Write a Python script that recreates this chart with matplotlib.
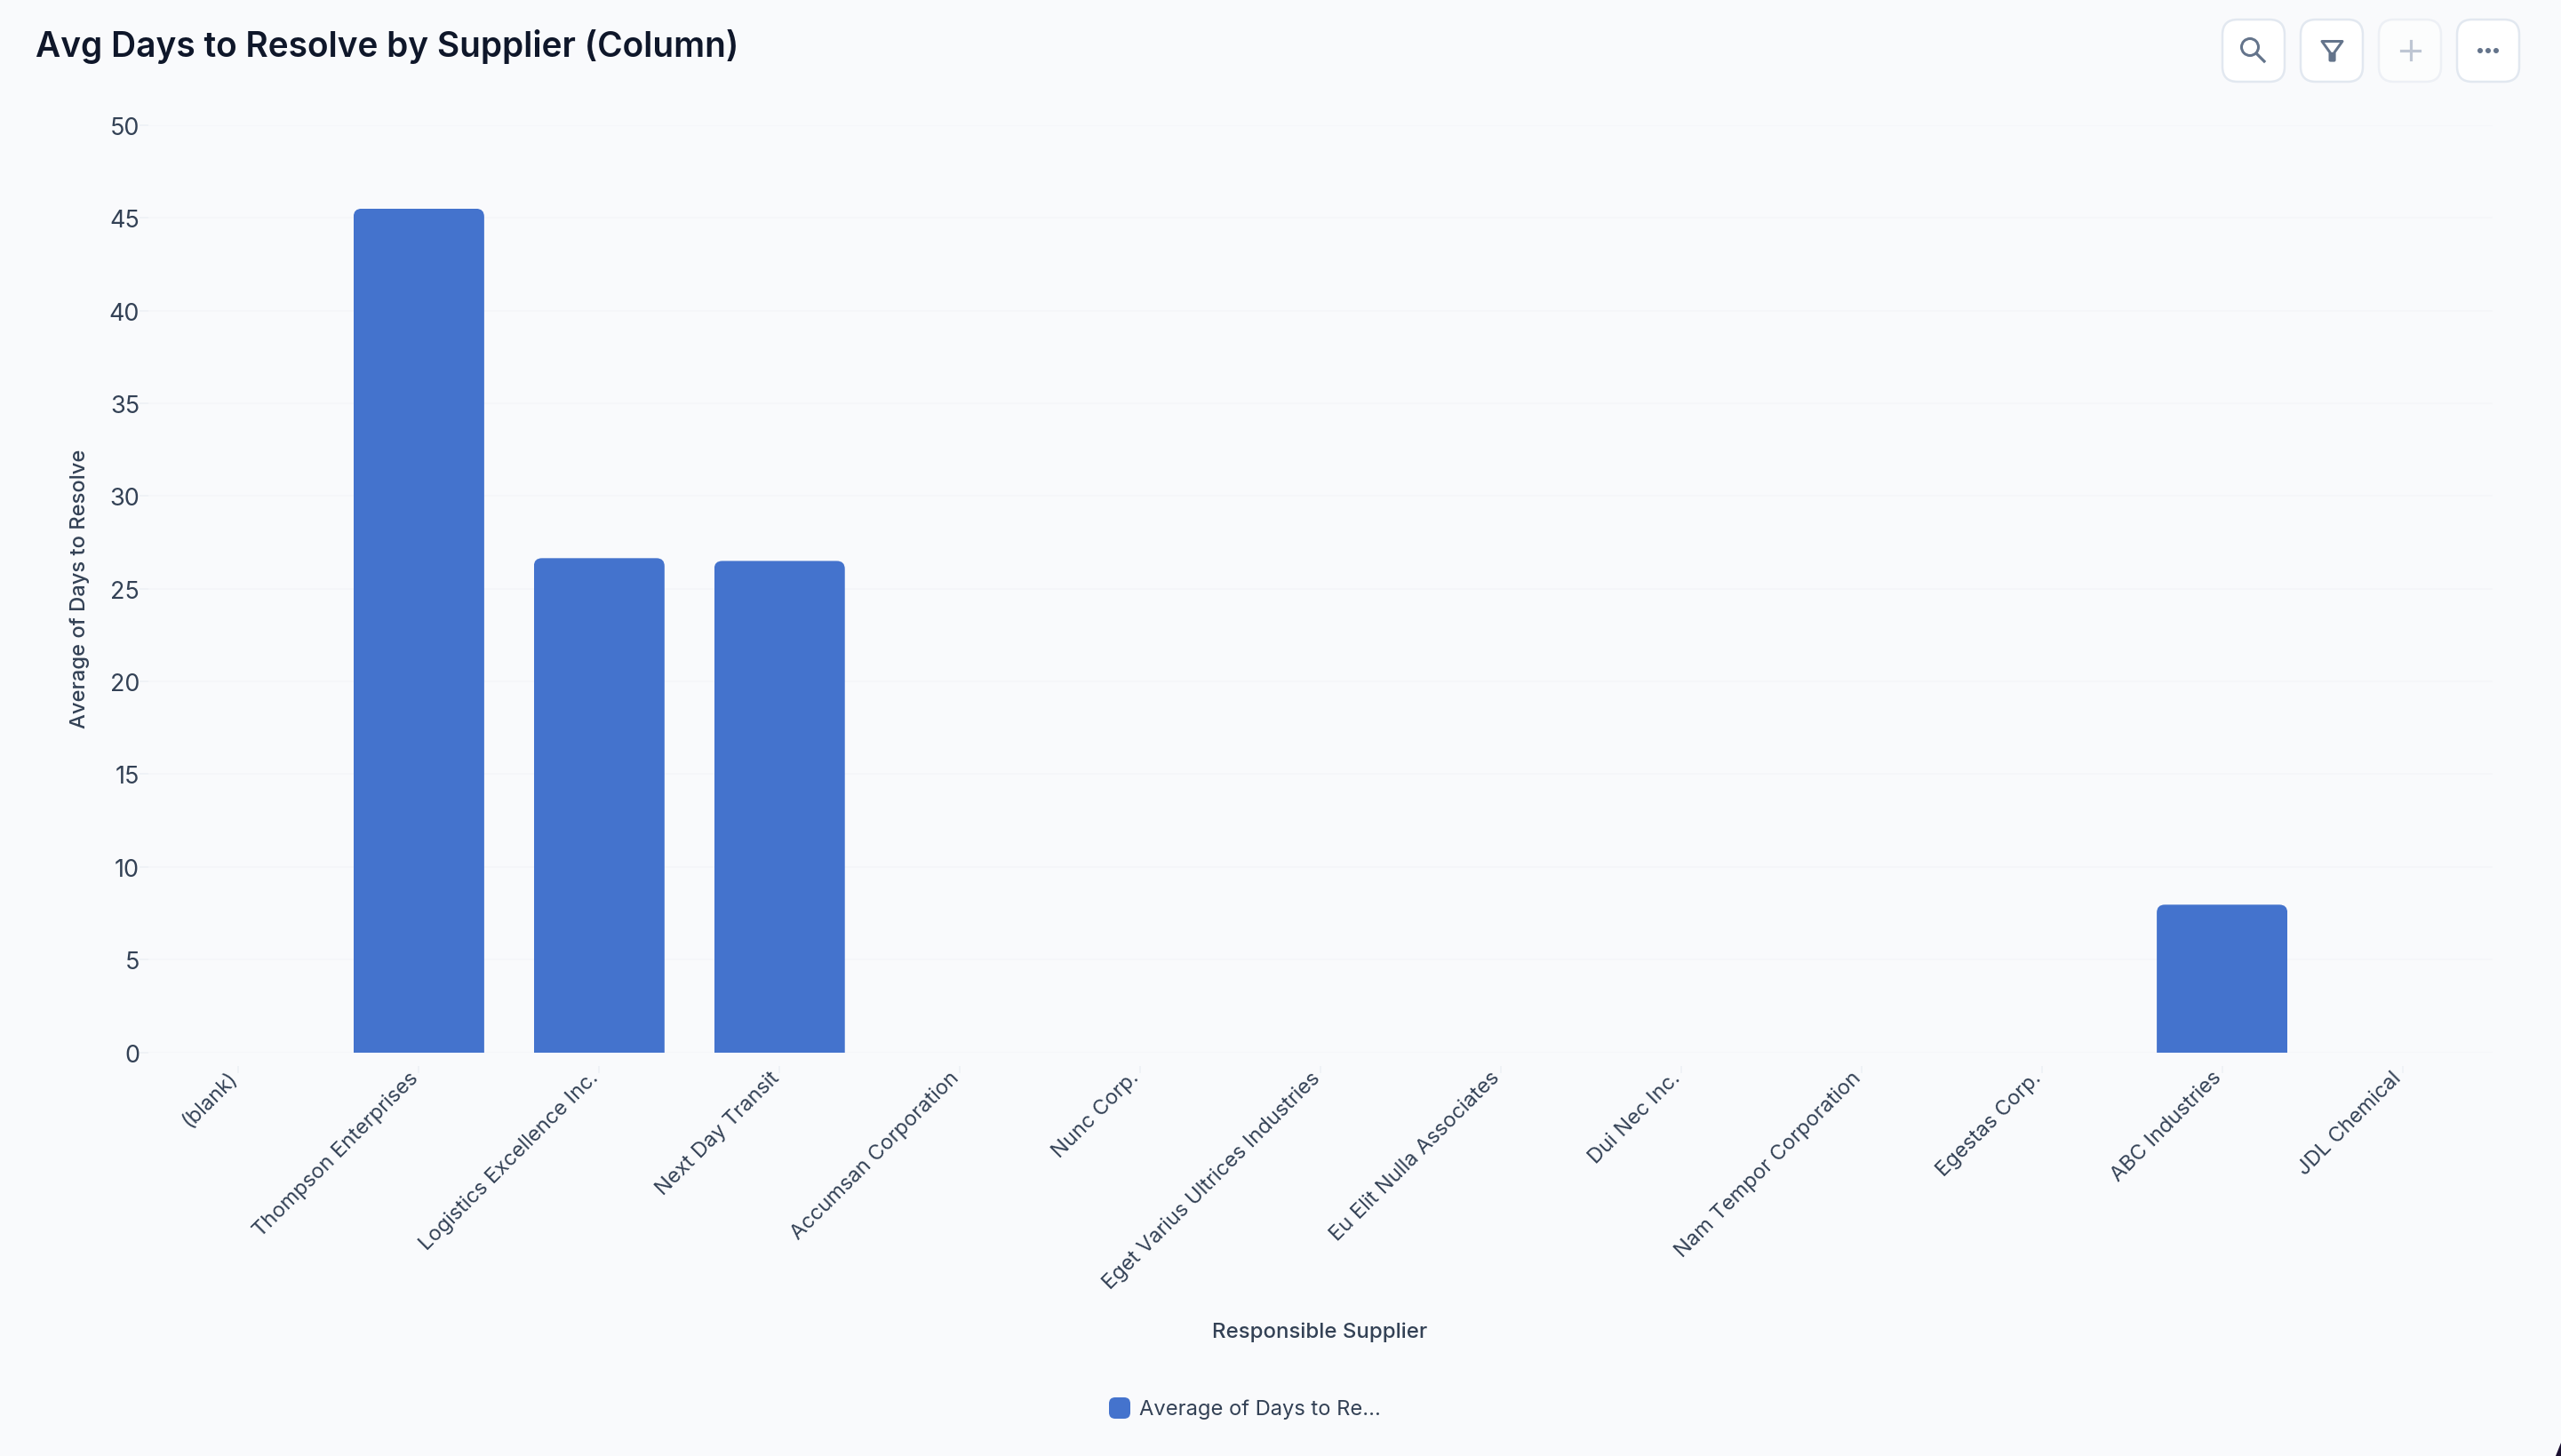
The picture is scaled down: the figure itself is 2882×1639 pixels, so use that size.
import matplotlib
matplotlib.use("Agg")
import matplotlib.pyplot as plt
from matplotlib.patches import FancyBboxPatch, Circle, Polygon
from matplotlib.lines import Line2D
from matplotlib.transforms import ScaledTranslation

categories = ["(blank)", "Thompson Enterprises", "Logistics Excellence Inc.", "Next Day Transit",
              "Accumsan Corporation", "Nunc Corp.", "Eget Varius Ultrices Industries",
              "Eu Elit Nulla Associates", "Dui Nec Inc.", "Nam Tempor Corporation",
              "Egestas Corp.", "ABC Industries", "JDL Chemical"]
avg_days = [0, 45.5, 26.65, 26.5, 0, 0, 0, 0, 0, 0, 0, 7.96, 0]
y_ticks = [0, 5, 10, 15, 20, 25, 30, 35, 40, 45, 50]
title = "Avg Days to Resolve by Supplier (Column)"
x_title = "Responsible Supplier"
y_title = "Average of Days to Resolve"
legend_label = "Average of Days to Re..."

W, H = 2882, 1640
BG = "#F9FAFC"; BAR = "#4473CD"; TXT = "#334155"; DARK = "#0F172A"; GRID = "#F4F6F9"; ICON = "#64748B"
plt.rcParams["font.family"] = ["Inter", "DejaVu Sans"]
px = 72 / 100  # points per pixel at dpi 100

fig = plt.figure(figsize=(W / 100, H / 100), dpi=100, facecolor=BG)
L, R, T, B = 167, 2805, 142, 1185.5
ax = fig.add_axes([L / W, 1 - B / H, (R - L) / W, (B - T) / H], facecolor=BG)
ax.set_xlim(-0.5, len(categories) - 0.5)
ax.set_ylim(0, 50)
for s in ax.spines.values():
    s.set_visible(False)
ax.spines["bottom"].set_position(("outward", 15 * px))

ax.set_yticks(y_ticks)
ax.set_yticklabels([str(v) for v in y_ticks], fontsize=27 * px, color=TXT)
ax.tick_params(axis="y", length=10 * px, width=1.5 * px, color="#EDF0F5", pad=0)
ax.grid(axis="y", color=GRID, lw=1.5 * px)
ax.set_axisbelow(True)

xpos = list(range(len(categories)))
ax.set_xticks(xpos)
ax.set_xticklabels(categories, fontsize=23.6 * px, color=TXT, rotation=45, ha="right",
                   va="top", rotation_mode="anchor")
ax.tick_params(axis="x", length=8 * px, width=1.5 * px, color="#EDF0F5", pad=-6 * px)
shift = ScaledTranslation(-12 / 100, 0, fig.dpi_scale_trans)
for lab in ax.get_xticklabels():
    lab.set_transform(lab.get_transform() + shift)

# rounded top corners through a clip shape in data space
unit_x = (R - L) / len(categories)
unit_y = (B - T) / 50
width = 147 / unit_x
bars = ax.bar(xpos, avg_days, width=width, color=BAR, linewidth=0, zorder=3)
radius = 9 / unit_x
for b in bars:
    if b.get_height() <= 0:
        continue
    clip = FancyBboxPatch((b.get_x(), -3), b.get_width(), b.get_height() + 3,
                          boxstyle=f"round,pad=0,rounding_size={radius}",
                          mutation_aspect=unit_x / unit_y, transform=ax.transData)
    b.set_clip_path(clip)

def fx(x): return x / W
def fy(y): return 1 - y / H

fig.text(fx(40), fy(52), title, fontsize=38.8 * px, fontweight=600, color=DARK, ha="left", va="center")
fig.text(fx(1485), fy(1500), x_title, fontsize=24 * px, fontweight=500, color=TXT, ha="center", va="center")
fig.text(fx(90), fy(663), y_title, fontsize=23.8 * px, fontweight=500, color=TXT, rotation=90, ha="center", va="center")
fig.text(fx(1282), fy(1587), legend_label, fontsize=23.7 * px, color=TXT, ha="left", va="center")

overlay = fig.add_axes([0, 0, 1, 1], facecolor="none")
overlay.set_xlim(0, W); overlay.set_ylim(H, 0); overlay.axis("off")
overlay.add_patch(FancyBboxPatch((1248, 1574), 24, 24, boxstyle="round,pad=0,rounding_size=7",
                                 fc=BAR, ec="none"))
# toolbar buttons
for x0, fc, ec in [(2501, "#FFFFFF", "#E2E8F0"), (2589, "#FFFFFF", "#E2E8F0"),
                   (2677, "#FCFDFD", "#EDF0F5"), (2765, "#FFFFFF", "#E2E8F0")]:
    overlay.add_patch(FancyBboxPatch((x0, 23), 70, 70, boxstyle="round,pad=0,rounding_size=17",
                                     fc=fc, ec=ec, lw=2.5 * px))
# magnifier
overlay.add_patch(Circle((2532, 54), 9.5, fc="none", ec=ICON, lw=3 * px))
overlay.add_line(Line2D([2539, 2548], [61, 70], color=ICON, lw=3.2 * px))
# funnel
overlay.add_patch(Polygon([[2613, 47.5], [2636, 47.5], [2627, 60], [2627, 69], [2622, 69], [2622, 60]],
                          closed=True, fc="none", ec=ICON, lw=3 * px, joinstyle="round"))
overlay.add_patch(Polygon([[2622, 60], [2627, 60], [2627, 69], [2622, 69]], closed=True, fc=ICON, ec=ICON, lw=1))
# plus
overlay.add_line(Line2D([2702, 2723], [58, 58], color="#BEC6D3", lw=3.2 * px))
overlay.add_line(Line2D([2712.5, 2712.5], [47, 68], color="#BEC6D3", lw=3.2 * px))
# dots
for cx in [2791, 2800, 2809]:
    overlay.add_patch(Circle((cx, 58), 3, fc=ICON, ec="none"))
# window corner
overlay.add_patch(Polygon([[2882, 1625], [2882, 1640], [2876, 1640]], closed=True, fc="#1A1030", ec="none"))

fig.savefig("out.png", dpi=100, facecolor=BG)
